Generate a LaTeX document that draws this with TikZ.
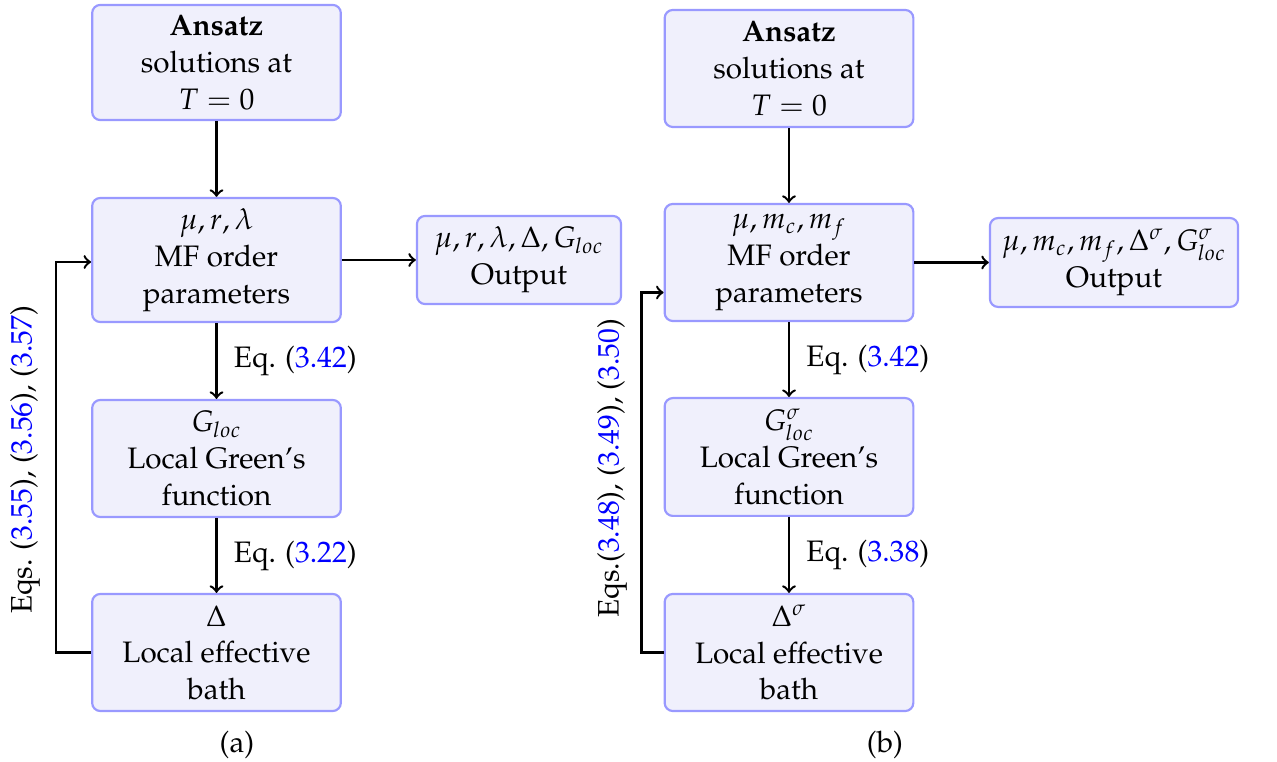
\documentclass[tikz,border=0pt,11pt]{standalone}
\usepackage[T1]{fontenc}
\usepackage{mathpazo}
\usetikzlibrary{calc}
\definecolor{boxdraw}{RGB}{153,153,255}
\definecolor{boxfill}{RGB}{240,240,252}
\begin{document}
\begin{tikzpicture}[x=0.37pt,y=-0.37pt,
  box/.style={draw=boxdraw,fill=boxfill,line width=0.8pt,rounded corners=3pt,align=center,inner sep=1pt,minimum width=#1},
  box/.default=92pt,
  flow/.style={->,line width=0.9pt,black},
  eqlab/.style={anchor=west,inner sep=0pt}]
\useasboundingbox (0,0) rectangle (1277,762);
% panel (a)
\node[box,minimum height=42.6pt] (A1) at (216.5,62.5) {\textbf{Ansatz}\\solutions at\\$T=0$};
\node[box,minimum height=45.9pt] (M1) at (216.5,260) {$\mu,r,\lambda$\\MF order\\parameters};
\node[box=75.5pt,minimum height=32.6pt] (O1) at (519,260) {$\mu,r,\lambda,\Delta,G_{loc}$\\Output};
\node[box,minimum height=43.3pt] (G1) at (216.5,458.5) {$G_{loc}$\\Local Green's\\function};
\node[box,minimum height=43.3pt] (D1) at (216.5,652.5) {$\Delta$\\Local effective\\bath};
\draw[flow] (A1) -- (M1);
\draw[flow] (M1) -- (O1);
\draw[flow] (M1) -- node[eqlab,right=6pt] (L1) {Eq. (\textcolor{blue}{3.42})} (G1);
\draw[flow] (G1) -- node[eqlab,right=6pt] (L2) {Eq. (\textcolor{blue}{3.22})} (D1);
\draw[flow] (D1.west) -- ++(-35,0) coordinate (C1) |- ($(M1.west)+(0,2)$);
\node[rotate=90,inner sep=0pt] (R1) at (25,460) {Eqs. (\textcolor{blue}{3.55}), (\textcolor{blue}{3.56}), (\textcolor{blue}{3.57})};
\node (la) at (237,745) {(a)};
% panel (b)
\node[box,minimum height=43.3pt] (A2) at (789,68.5) {\textbf{Ansatz}\\solutions at\\$T=0$};
\node[box,minimum height=43.3pt] (M2) at (789,262.5) {$\mu,m_c,m_f$\\MF order\\parameters};
\node[box=91.8pt,minimum height=32.9pt] (O2) at (1114,262.5) {$\mu,m_c,m_f,\Delta^\sigma,G^\sigma_{loc}$\\Output};
\node[box,minimum height=43.6pt] (G2) at (789,457) {$G^\sigma_{loc}$\\Local Green's\\function};
\node[box,minimum height=43.3pt] (D2) at (789,652.5) {$\Delta^\sigma$\\Local effective\\bath};
\draw[flow] (A2) -- (M2);
\draw[flow] (M2) -- (O2);
\draw[flow] (M2) -- node[eqlab,right=6pt] (L3) {Eq. (\textcolor{blue}{3.42})} (G2);
\draw[flow] (G2) -- node[eqlab,right=6pt] (L4) {Eq. (\textcolor{blue}{3.38})} (D2);
\draw[flow] (D2.west) -- ++(-22,0) coordinate (C2) |- ($(M2.west)+(0,30)$);
\node[rotate=90,inner sep=0pt] (R2) at (612,468) {Eqs.(\textcolor{blue}{3.48}), (\textcolor{blue}{3.49}), (\textcolor{blue}{3.50})};
\node (lb) at (885,745) {(b)};
\end{tikzpicture}
\end{document}
